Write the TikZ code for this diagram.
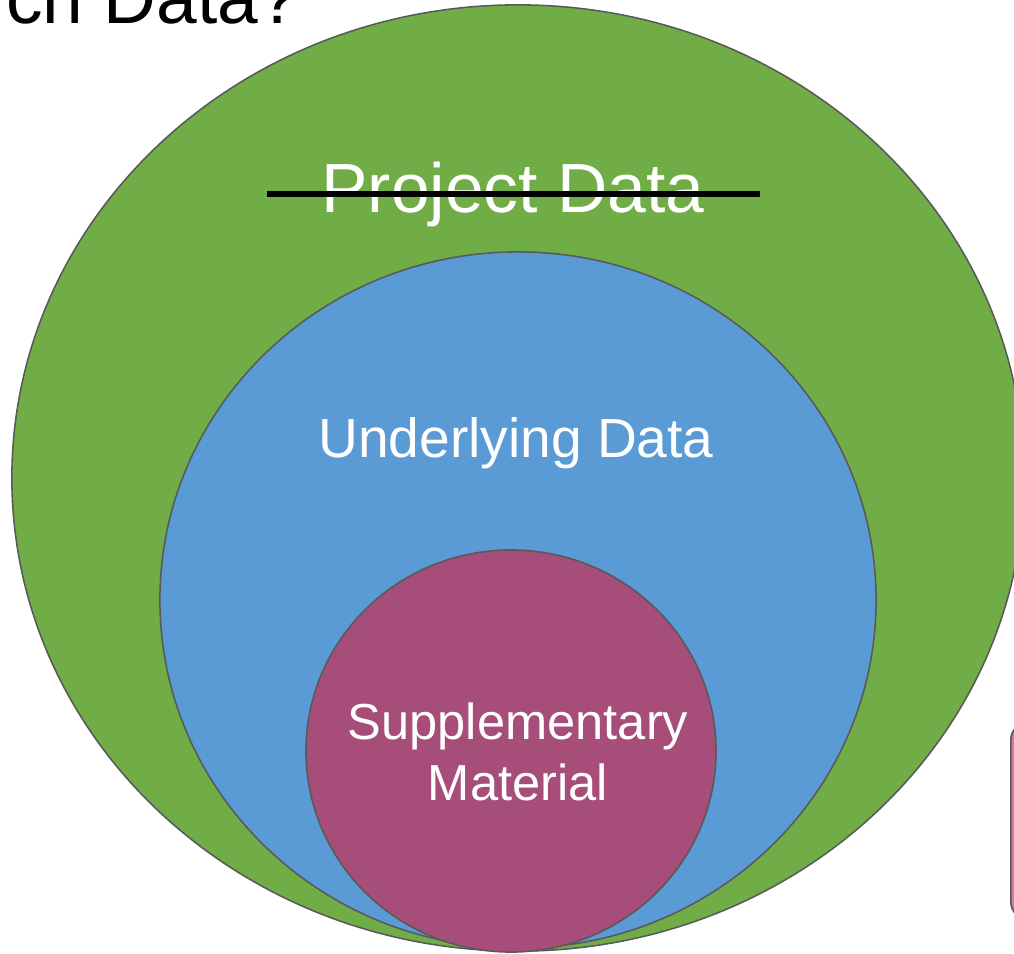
\documentclass[tikz,border=0pt]{standalone}
\usepackage{fontspec}
\setmainfont{Liberation Sans}
\usetikzlibrary{shapes.geometric, positioning}

\definecolor{projgreen}{HTML}{70AD47}
\definecolor{underblue}{HTML}{5B9BD5}
\definecolor{suppmagenta}{HTML}{A64D79}
\definecolor{sidepink}{HTML}{CD7DB0}
\definecolor{rimgray}{HTML}{595959}

\begin{document}
\begin{tikzpicture}[
    x=0.025cm, y=-0.025cm,
    blob/.style={ellipse, draw=rimgray, line width=1.1pt, inner sep=0pt},
    label/.style={text=white, inner sep=0pt, anchor=base},
    strike/.style={line width=3.6pt, black}
]
\clip (0,0) rectangle (1014,954);

% Title (cut off at the slide edge)
\node[inner sep=0pt, anchor=base west, font=\fontsize{52}{60}\selectfont] (title) at (6,23) {ch Data?};

% Nested sets
\node[blob, fill=projgreen, minimum width=25.3cm, minimum height=23.65cm] (projcircle) at (518,478) {};
\node[blob, fill=underblue, minimum width=17.9cm, minimum height=17.4cm] (undercircle) at (518,600) {};
\node[blob, fill=suppmagenta, minimum width=10.25cm, minimum height=10.05cm] (suppcircle) at (511,751) {};

% Labels
\node[label, font=\fontsize{49.5}{58}\selectfont] (projlabel) at (513,212) {Project Data};
\node[label, font=\fontsize{39.2}{46}\selectfont] (underlabel) at (516,457) {Underlying Data};
\node[text=white, inner sep=0pt, align=center, font=\fontsize{36}{43}\selectfont] (supplabel) at (518,752) {Supplementary\\Material};

% Strike-through
\coordinate (strikeL) at (267,194);
\coordinate (strikeR) at (760,194);
\draw[strike] (strikeL) -- (strikeR);

% Box peeking in at the right edge
\node[draw=rimgray, line width=1.2pt, fill=sidepink, rounded corners=12pt, minimum width=4cm, minimum height=4.9cm, anchor=north west] (sidebox) at (1010,722) {};
\end{tikzpicture}
\end{document}
